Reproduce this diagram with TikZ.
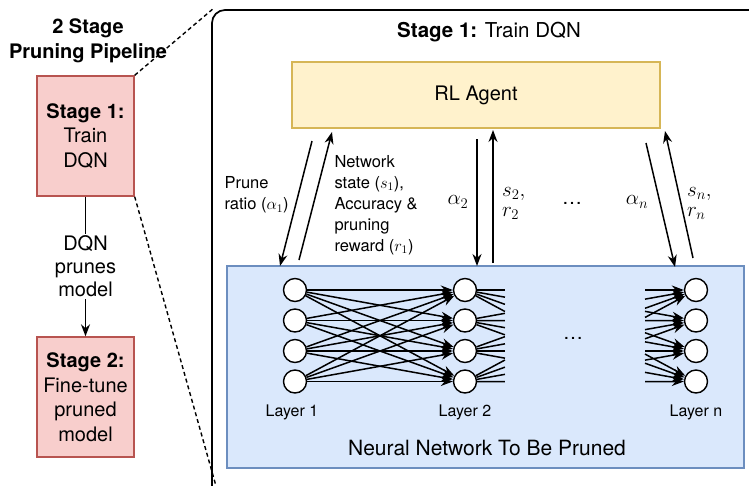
\RequirePackage{fix-cm}
\documentclass[tikz,border=0pt]{standalone}
\usepackage{fontspec}
\setmainfont{TeX Gyre Heros}
\usetikzlibrary{arrows.meta,calc}
\definecolor{pinkfill}{HTML}{F8CECC}
\definecolor{pinkline}{HTML}{B85450}
\definecolor{yelfill}{HTML}{FFF2CC}
\definecolor{yelline}{HTML}{D6B656}
\definecolor{bluefill}{HTML}{DAE8FC}
\definecolor{blueline}{HTML}{6C8EBF}
\tikzset{
  big/.style={font=\fontsize{20}{24.5}\selectfont},
  bigb/.style={font=\fontsize{20}{25}\selectfont\bfseries},
  small/.style={font=\fontsize{16.5}{21}\selectfont},
  lay/.style={font=\fontsize{16}{19}\selectfont},
  mlab/.style={font=\fontsize{21}{24}\selectfont},
  srlab/.style={font=\fontsize{21}{21}\selectfont, anchor=base west, inner sep=0pt, text height=1.1ex, text depth=0.4ex},
  stagebox/.style={draw=pinkline, fill=pinkfill, line width=1.4pt, minimum width=97pt, minimum height=120pt, align=center, big, inner sep=0pt},
  neuron/.style={circle, draw, fill=white, line width=1.4pt, minimum size=23pt, inner sep=0pt},
  link/.style={line width=1.5pt, -{Stealth[length=12pt,width=9pt]}},
  plain/.style={line width=1.5pt},
  zoomline/.style={line width=1.4pt, dash pattern=on 4pt off 3pt},
}
\begin{document}
\begin{tikzpicture}[x=1pt,y=-1pt]
\useasboundingbox (0,0) rectangle (749,485);
\clip (0,0) rectangle (749,485);
% left panel
\node[bigb, align=center] (ptitle) at (88,40.5) {2 Stage\\Pruning Pipeline};
\node[stagebox] (s1) at (85.5,136) {\textbf{Stage 1:}\\Train\\DQN};
\node[stagebox] (s2) at (85.5,397) {\textbf{Stage 2:}\\Fine-tune\\pruned\\model};
\draw[link] (s1) -- (s2) node[midway, fill=white, align=center, inner sep=2pt, font=\fontsize{20}{23}\selectfont] {DQN\\prunes\\model};
% outer box
\coordinate (otl) at (214,8);
\coordinate (obl) at (216,486);
\draw[line width=1.7pt, rounded corners=13pt] (212,10) rectangle (770,505);
\draw[zoomline] (s1.north east) -- (otl);
\draw[zoomline] (s1.south east) -- (obl);
\node[font=\fontsize{20.5}{24}\selectfont] (rtitle) at (489,32) {\textbf{Stage 1:} Train DQN};
% RL agent
\node[draw=yelline, fill=yelfill, line width=1.4pt, minimum width=368pt, minimum height=66pt, big] (rl) at (476,95) {RL Agent};
% NN box
\node[draw=blueline, fill=bluefill, line width=1.4pt, minimum width=517pt, minimum height=202pt] (nn) at (485.5,367) {};
\node[font=\fontsize{21}{24}\selectfont] (nnlabel) at (487,448) {Neural Network To Be Pruned};
% neurons
\foreach \i/\y in {1/290,2/320.5,3/351,4/381.5} {
  \node[neuron] (a\i) at (295,\y) {};
  \node[neuron] (b\i) at (465,\y) {};
  \node[neuron] (c\i) at (696,\y) {};
  \coordinate (h\i) at (635,\y);
  \coordinate (p\i) at (526,\y);
}
\foreach \i in {1,...,4}{\foreach \j in {1,...,4}{
  \draw[link] (a\i) -- (b\j);
  \draw[plain] (b\i) -- ($(b\i)!0.235!(h\j)$);
  \draw[link] ($(p\i)!0.7!(c\j)$) -- (c\j);
}}
\node[lay] (l1) at (292,412) {Layer 1};
\node[lay] (l2) at (465,412) {Layer 2};
\node[lay] (ln) at (696,412) {Layer n};
\node[big] (nndots) at (573,338) {\dots};
% RL <-> NN arrows
\coordinate (d1s) at (312,141); \coordinate (d1e) at (280,266);
\coordinate (u1s) at (299,260); \coordinate (u1e) at (332,132);
\coordinate (d2s) at (477,139); \coordinate (d2e) at (477,266);
\coordinate (u2s) at (493,263); \coordinate (u2e) at (493,130);
\coordinate (dns) at (646,143); \coordinate (dne) at (675,267);
\coordinate (uns) at (693,258); \coordinate (une) at (665,131);
\draw[link] (d1s) -- (d1e);
\draw[link] (u1s) -- (u1e);
\draw[link] (d2s) -- (d2e);
\draw[link] (u2s) -- (u2e);
\draw[link] (dns) -- (dne);
\draw[link] (uns) -- (une);
\node[small, align=left, anchor=west] (pr) at (221,195) {Prune\\ratio ($\alpha_1$)};
\node[small, align=left, anchor=west] (ns) at (331,205) {Network\\state ($s_1$),\\Accuracy \&\\pruning\\reward ($r_1$)};
\node[mlab] (al2) at (458,202) {$\alpha_2$};
\node[srlab] (s2lab) at (502,196) {$s_2,$};
\node[srlab] (r2lab) at (502,216) {$r_2$};
\node[big] (mdots) at (572,203) {\dots};
\node[mlab] (aln) at (637,202) {$\alpha_n$};
\node[srlab] (snlab) at (687,196) {$s_n,$};
\node[srlab] (rnlab) at (687,216) {$r_n$};
\end{tikzpicture}
\end{document}
